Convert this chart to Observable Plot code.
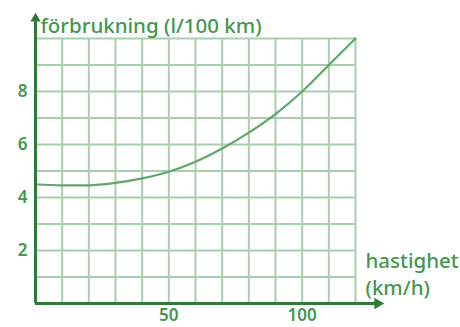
<!DOCTYPE html>
<html>
<head>
<meta charset="utf-8">
<script src="https://cdn.jsdelivr.net/npm/d3@7"></script>
<script src="https://cdn.jsdelivr.net/npm/@observablehq/plot@0.6"></script>
<style>
  html, body { margin: 0; padding: 0; background: #fff; }
  svg { display: block; }
</style>
</head>
<body>
<div id="chart"></div>
<script>
const speeds = [0, 10, 20, 30, 40, 50, 60, 70, 80, 90, 100, 110, 120];
const consumption = [4.5, 4.46, 4.46, 4.55, 4.72, 4.97, 5.35, 5.85, 6.45, 7.15, 8.0, 9.0, 10.0];
const xGrid = [0, 10, 20, 30, 40, 50, 60, 70, 80, 90, 100, 110, 120];
const yGrid = [0, 1, 2, 3, 4, 5, 6, 7, 8, 9, 10];
const xTickLabels = [50, 100];
const yTickLabels = [2, 4, 6, 8];
const yAxisTitle = "förbrukning (l/100 km)";
const xAxisTitle = "hastighet\n(km/h)";
const xAxisEnd = 128.3;
const yAxisEnd = 10.75;

const data = speeds.map((s, i) => ({speed: s, value: consumption[i]}));

const gridColor = "#a8cfac";
const axisColor = "#2f7a3a";
const textColor = "#45964f";
const curveColor = "#62a56c";
const font = "'Noto Sans', sans-serif";

const chart = Plot.plot({
  width: 460,
  height: 327,
  marginLeft: 35,
  marginRight: 105,
  marginTop: 38,
  marginBottom: 24,
  style: {fontFamily: font, background: "#fff"},
  x: {domain: [0, 120]},
  y: {domain: [0, 10]},
  marks: [
    Plot.ruleX(xGrid, {stroke: gridColor, strokeWidth: 2}),
    Plot.ruleY(yGrid, {stroke: gridColor, strokeWidth: 2}),
    Plot.line(data, {x: "speed", y: "value", stroke: curveColor, strokeWidth: 2.2, curve: "monotone-x"}),
    Plot.ruleY([0], {x1: 0, x2: xAxisEnd, stroke: axisColor, strokeWidth: 3, clip: false}),
    Plot.ruleX([0], {y1: 0, y2: yAxisEnd, stroke: axisColor, strokeWidth: 3, clip: false}),
    Plot.dot([{x: xAxisEnd, y: 0}], {x: "x", y: "y", symbol: "triangle", rotate: 90, r: 4.2, fill: axisColor, stroke: "none"}),
    Plot.dot([{x: 0, y: yAxisEnd}], {x: "x", y: "y", symbol: "triangle", r: 3.8, fill: axisColor, stroke: "none"}),
    Plot.axisX(xTickLabels, {tickSize: 0, tickPadding: 5, fontSize: 17, fontWeight: 600, fill: textColor, label: null}),
    Plot.axisY(yTickLabels, {tickSize: 0, tickPadding: 8, fontSize: 17, fontWeight: 600, fill: textColor, label: null}),
    Plot.text([yAxisTitle], {frameAnchor: "top-left", textAnchor: "start", lineAnchor: "bottom", dx: 5, dy: -6, fontSize: 20.5, fontWeight: 500, fill: textColor}),
    Plot.text([xAxisTitle], {frameAnchor: "bottom-right", textAnchor: "start", lineAnchor: "bottom", dx: 10, dy: -9, lineHeight: 1.3, fontSize: 20.5, fontWeight: 500, fill: textColor})
  ]
});
document.getElementById("chart").appendChild(chart);
</script>
</body>
</html>
